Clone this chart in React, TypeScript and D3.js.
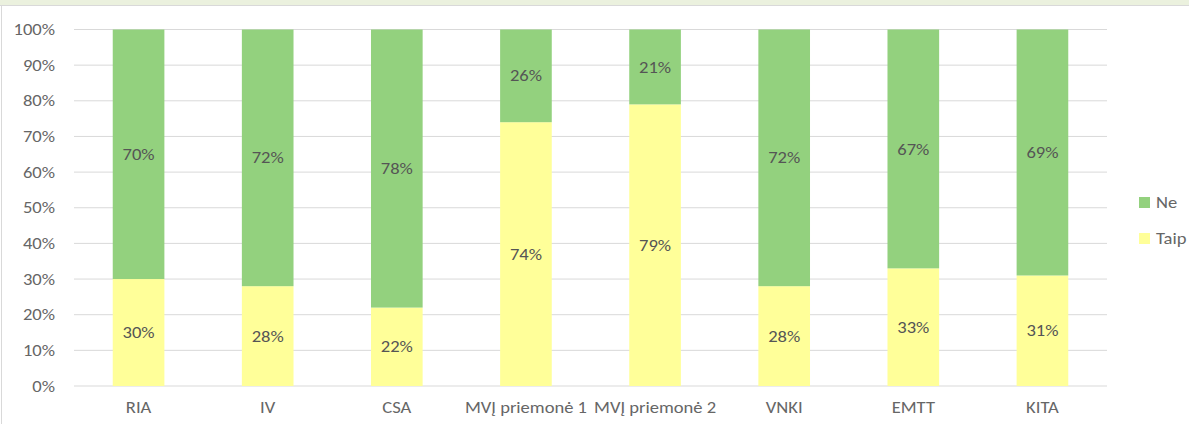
import React from "react";
import * as d3 from "d3";

const categories = ["RIA", "IV", "CSA", "MVĮ priemonė 1", "MVĮ priemonė 2", "VNKI", "EMTT", "KITA"];
const taip = [30, 28, 22, 74, 79, 28, 33, 31];
const ne = [70, 72, 78, 26, 21, 72, 67, 69];
const yTicks = [0, 10, 20, 30, 40, 50, 60, 70, 80, 90, 100];
const seriesNames = ["Ne", "Taip"];

const W = 1189;
const H = 424;
const GREEN = "#93D17E";
const YELLOW = "#FFFF99";
const TXT = "#666666";
const FONT = "Carlito, Calibri, 'Open Sans', sans-serif";
const SX = 1.16;

function T({ x, y, anchor = "start", fill = TXT, children }: any) {
  return (
    <g transform={`translate(${x},${y}) scale(${SX},1)`}>
      <text x={0} y={0} dy="0.35em" textAnchor={anchor} fontSize={16} fill={fill} fontFamily={FONT}>
        {children}
      </text>
    </g>
  );
}

export default function App() {
  const x = d3.scaleBand<string>().domain(categories).range([74, 1107]).paddingInner(0.6).paddingOuter(0.3);
  const y = d3.scaleLinear().domain([0, 100]).range([386, 29.5]);
  const rows = categories.map((c, i) => ({ c, Taip: taip[i], Ne: ne[i] }));
  const stack = d3.stack<any>().keys(["Taip", "Ne"])(rows);
  const colors: Record<string, string> = { Taip: YELLOW, Ne: GREEN };

  return (
    <svg width={W} height={H} style={{ position: "absolute", left: 0, top: 0, background: "#fff" }}>
      <rect x={0} y={0} width={W} height={5} fill="#EBF1DE" />
      <line x1={0} x2={W} y1={5.5} y2={5.5} stroke="#D9D9D9" />
      <line x1={1.5} x2={1.5} y1={5} y2={H} stroke="#D9D9D9" />
      {yTicks.map((t) => (
        <g key={t}>
          <line x1={74} x2={1107} y1={y(t)} y2={y(t)} stroke="#D9D9D9" strokeWidth={1} />
          <T x={55} y={y(t)} anchor="end">{t}%</T>
        </g>
      ))}
      {stack.map((s) => (
        <g key={s.key}>
          {s.map((d, i) => (
            <g key={i}>
              <rect
                x={x(categories[i])}
                width={x.bandwidth()}
                y={y(d[1])}
                height={y(d[0]) - y(d[1])}
                fill={colors[s.key]}
              />
              <T
                x={(x(categories[i]) as number) + x.bandwidth() / 2}
                y={(y(d[0]) + y(d[1])) / 2}
                anchor="middle"
                fill="#555555"
              >
                {d[1] - d[0]}%
              </T>
            </g>
          ))}
        </g>
      ))}
      {categories.map((c) => (
        <T key={c} x={(x(c) as number) + x.bandwidth() / 2} y={407} anchor="middle">
          {c}
        </T>
      ))}
      {seriesNames.map((n, i) => (
        <g key={n}>
          <rect x={1139} y={197 + i * 36} width={11} height={11} fill={colors[n]} />
          <T x={1156} y={202.5 + i * 36}>{n}</T>
        </g>
      ))}
    </svg>
  );
}
